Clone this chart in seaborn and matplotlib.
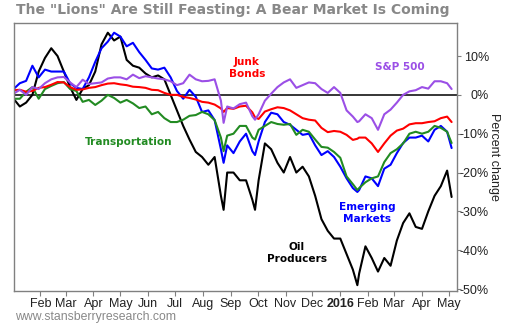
import matplotlib
matplotlib.use('Agg')
import matplotlib.pyplot as plt
import seaborn as sns
import pandas as pd

# ---------------- data ----------------
weekly = pd.date_range('2015-01-02', '2016-04-29', freq='7D')
extra = pd.to_datetime(['2015-08-24', '2015-09-28', '2016-01-20', '2016-05-04'])
dates = weekly.append(extra).sort_values()

oil = [-1, -3, -2, 0, 6, 9.5, 12, 10, 6, 2, -1.3, 1.5, 2.5, 6, 13, 16, 14, 15, 9, 7.5,
       7, 5.5, 4.5, 5, 4, 0, -4, -8, -11.5, -14.7, -16, -18, -16, -26,
       -29.6,
       -20, -20, -22, -22, -27,
       -29.6,
       -22, -12.5, -14, -17.5, -20, -16, -20, -18.5, -21, -26, -32, -35, -37, -37, -41, -45,
       -49,
       -46, -39, -42, -45.5, -42, -44, -37.5, -33, -30.5, -34, -34.5, -30, -26, -23.5, -19.5, -26.3]

emerging = [1.5, 3, 3.6, 7.5, 4.5, 6.5, 6, 6, 6, 3, 1.8, 1.5, 4.5, 8.5, 12, 13.7, 16, 15, 12.5, 13.4,
            11, 9, 6.8, 6.5, 7, 4.5, 1, -1, 1.3, -0.5, -4.4, -4, -6.5, -14,
            -17.5,
            -13, -15, -12, -10, -14.5,
            -15.5,
            -12, -7, -4.6, -5, -7, -7.7, -9, -10.3, -10, -13, -15.5, -14.5, -16, -18.5, -21.5, -24,
            -25,
            -24.5, -21, -21.5, -23.5, -19, -18, -15, -12.4, -11, -11, -10.5, -12, -9, -8, -9.5, -13.7]

transport = [-1, -1, 0.8, 2, -1, 1.5, 2.3, 3, 3.3, 1.5, 1, -1.8, -1.3, -2.6, -1.5, 0, -0.8, -2, -1.3, -2.2,
             -3.4, -3, -5, -4.4, -6, -7, -7, -6.4, -5.4, -5.2, -4.4, -5, -6.5, -11,
             -14.5,
             -10.5, -10, -8, -8, -11,
             -11.5,
             -9, -8, -7, -7.5, -7.7, -7.5, -10.3, -9, -9.5, -11.5, -13.4, -13.6, -14.7, -16.2, -21, -23,
             -24.5,
             -24, -22.5, -21.5, -21, -17.3, -15, -14, -12.5, -10, -9.5, -10, -9.5, -8, -8.5, -9.5, -12.4]

junk = [1.2, 1.3, 0.8, 1, 1.8, 2, 2.6, 3.3, 3.2, 2, 1.3, 1.4, 1.8, 2, 2.5, 2.9, 3, 2.7, 2.5, 2.1,
        2, 1.8, 1.3, 1.2, 0.5, 0, 0, -0.5, -0.8, -1.2, -1.8, -2, -2.5, -3.5,
        -4.4,
        -3.4, -3.6, -3, -2.8, -4.5,
        -5.8,
        -6.2, -4.3, -3.7, -3.2, -3.4, -4, -5, -6, -6.4, -6.6, -8.5, -9.6, -9.3, -9.5, -10.3, -11.6,
        -11.3,
        -11, -11, -12.5, -14.7, -12.5, -10.5, -9.2, -8.7, -7.6, -7.3, -7.3, -7, -6.8, -6, -5.6, -7]

sp500 = [0.3, 1.3, 0, 2, 1.5, 3, 4, 4.5, 4.6, 3.2, 2, 3.9, 2.8, 3, 3.2, 4.2, 4.5, 4.5, 4, 5.2,
         4.3, 4.8, 4.5, 4.2, 4, 3.5, 2.5, 3, 5.2, 4, 3.5, 3.6, 4, -1.5,
         -7.2,
         -3, -3.5, -2.4, -2, -5.5,
         -6.4,
         -5, -1.5, 0.3, 2, 3.2, 4, 1.8, 2.5, 3.2, 3, 1.5, 0.5, 2, 0.5, -4, -5.6,
         -7,
         -6.8, -5, -6, -9, -5, -3.8, -2, 0, 0.9, 1.2, 2, 1.6, 3.5, 3.5, 3, 1.5]

series_names = ['Oil Producers', 'Emerging Markets', 'Transportation', 'Junk Bonds', 'S&P 500']
series_colors = ['#000000', '#0000ff', '#228b22', '#ff0000', '#9b4fe6']

tick_months = pd.date_range('2015-02-01', '2016-05-01', freq='MS')
tick_labels = ['Feb', 'Mar', 'Apr', 'May', 'Jun', 'Jul', 'Aug', 'Sep', 'Oct', 'Nov', 'Dec',
               '2016', 'Feb', 'Mar', 'Apr', 'May']
y_ticks = [10, 0, -10, -20, -30, -40, -50]
y_tick_labels = ['10%', '0%', '-10%', '-20%', '-30%', '-40%', '-50%']

title = 'The "Lions" Are Still Feasting: A Bear Market Is Coming'
footer = 'www.stansberryresearch.com'

# ---------------- build ----------------
wide = pd.DataFrame({'date': dates, 'Oil Producers': oil, 'Emerging Markets': emerging,
                     'Transportation': transport, 'Junk Bonds': junk, 'S&P 500': sp500})
df = wide.melt(id_vars='date', var_name='series', value_name='value')

sns.set_style('white')
plt.rcParams['font.family'] = ['Liberation Sans', 'DejaVu Sans']

fig = plt.figure(figsize=(5.1, 3.25), dpi=100)
ax = fig.add_axes([14 / 510, 1 - 291 / 325, 443 / 510, 268 / 325])

ax.axhline(0, color='black', lw=1.1, zorder=1)
sns.lineplot(data=df, x='date', y='value', hue='series', hue_order=series_names,
             palette=dict(zip(series_names, series_colors)), linewidth=1.5,
             legend=False, ax=ax, zorder=2)

ax.set_xlim(pd.Timestamp('2015-01-02 12:00'), pd.Timestamp('2016-05-10'))
ax.set_ylim(-50.5, 18.5)

gray = '#808080'
for s in ax.spines.values():
    s.set_color(gray)
    s.set_linewidth(1.0)
    s.set_visible(True)

ax.set_xticks(tick_months)
ax.set_xticklabels(tick_labels)
ax.get_xticklabels()[11].set_fontweight('bold')
ax.tick_params(axis='x', direction='out', length=3.5, width=0.8, color=gray, pad=1.5,
               labelsize=9, labelcolor='#222222', bottom=True)

ax.yaxis.tick_right()
ax.set_yticks(y_ticks)
ax.set_yticklabels(y_tick_labels)
ax.tick_params(axis='y', direction='out', length=3, width=0.8, color=gray, pad=20,
               labelsize=9, labelcolor='#222222', right=True, left=False)
for lab in ax.get_yticklabels():
    lab.set_horizontalalignment('right')

ax.set_xlabel('')
ax.set_ylabel('Percent change', rotation=270, fontsize=9, color='#222222', va='center')
ax.yaxis.set_label_position('right')
ax.yaxis.set_label_coords((500 - 14) / 443, 0.5)

def lab(fx, fy, txt, color):
    ax.text(fx, fy, txt, transform=ax.transAxes, ha='center', va='center', color=color,
            fontsize=7.6, fontweight='bold', family='DejaVu Sans', linespacing=1.25)

lab((247 - 14) / 443, (291 - 68) / 268, 'Junk\nBonds', '#ff0000')
lab((400 - 14) / 443, (291 - 67) / 268, 'S&P 500', '#9b4fe6')
lab((129 - 14) / 443, (291 - 142) / 268, 'Transportation', '#228b22')
lab((367 - 14) / 443, (291 - 213) / 268, 'Emerging\nMarkets', '#0000ff')
lab((297 - 14) / 443, (291 - 253) / 268, 'Oil\nProducers', '#000000')

fig.text(16 / 510, 1 - 10 / 325, title, ha='left', va='center', fontsize=10,
         fontweight='bold', color='#888888', family='DejaVu Sans')
fig.text(15 / 510, 1 - 317 / 325, footer, ha='left', va='center', fontsize=8.8,
         color='#888888')

fig.savefig('out.png', dpi=100, facecolor='white')
